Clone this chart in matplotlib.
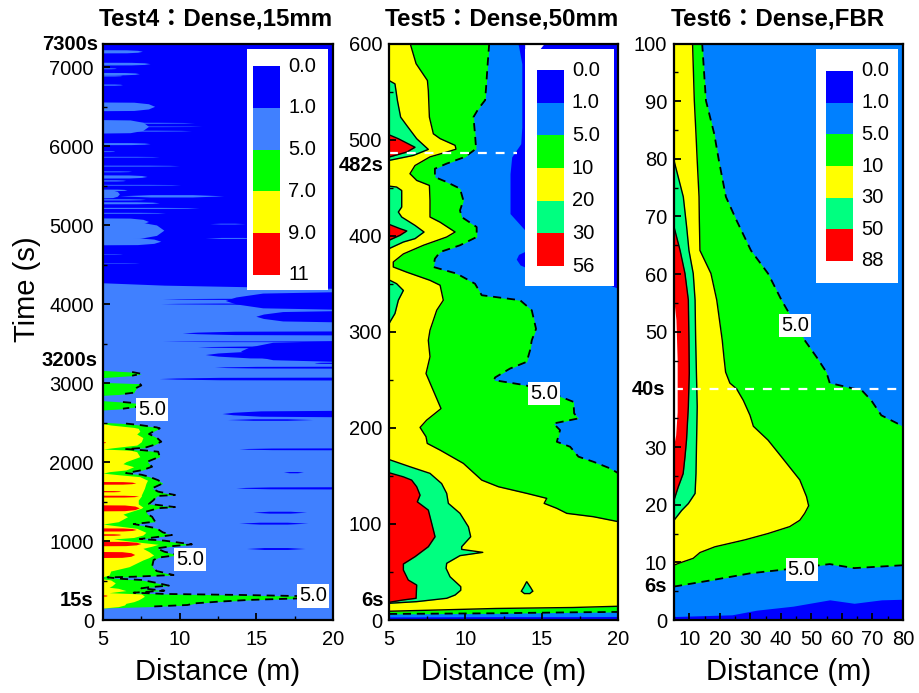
import matplotlib
matplotlib.use("Agg")
import matplotlib.pyplot as plt
from matplotlib.patches import Rectangle
from matplotlib.ticker import MultipleLocator, FuncFormatter
import numpy as np

plt.rcParams['font.family'] = ['Liberation Sans', 'Noto Sans CJK TC', 'DejaVu Sans']

DARK, LIGHT1, LIGHT, GREEN, YELLOW, TEAL, RED = '#0000ff', '#4080ff', '#0080ff', '#00ff00', '#ffff00', '#00ff80', '#ff0000'

# ---------- Test4 data ----------
# boundary between 1.0 band and 5.0 band at the front of the plume
t4_front_x = [5, 9, 20]
t4_front_t = [4270, 4240, 4200]
# light-blue streaks from the left edge: time, half height, reach
t4_up_t = [7195, 7039, 6980, 6912, 6890, 6773, 6498, 6245, 6290, 6245, 6190, 6026, 5930, 5860, 5747, 5675, 5610, 5560, 5505, 5440, 5390, 5320, 5277, 5212, 5150, 5040, 4930, 4790, 4629, 4515]
t4_up_h = [20, 17, 6, 15, 8, 8, 55, 85, 6, 4, 6, 13, 5, 5, 6, 6, 20, 8, 5, 10, 50, 8, 13, 7, 6, 45, 110, 45, 3, 3]
t4_up_x = [7.6, 8.1, 5.9, 7.4, 6.3, 6.3, 8.4, 8.0, 11.0, 11.5, 10.8, 8.1, 5.8, 8.7, 10.0, 6.9, 7.9, 6.5, 10.1, 6.6, 6.1, 7.8, 8.7, 11.3, 9.1, 8.0, 9.0, 8.8, 6.3, 7.4]
# free-floating light streaks: time, half height, start, end
t4_float_t = [5365, 5013, 4832]
t4_float_h = [15, 5, 6]
t4_float_a = [6.1, 12.0, 11.7]
t4_float_b = [12.9, 14.3, 15.2]
# dark streaks reaching the right edge: time, half height, start
t4_dn_t = [4040, 4060, 4000, 3840, 3629, 3523, 3452, 3400, 3355, 3250, 3195, 3051, 2608, 2161, 1667]
t4_dn_h = [110, 8, 8, 70, 25, 5, 12, 130, 50, 8, 12, 18, 40, 12, 14]
t4_dn_x = [13.0, 8.9, 8.8, 15.0, 10.2, 8.9, 11.2, 14.0, 11.7, 18.8, 12.3, 8.7, 12.8, 13.9, 13.7]
# free-floating dark streaks
t4_dfl_t = [2532, 1866, 1359, 1220, 899]
t4_dfl_h = [10, 8, 12, 12, 12]
t4_dfl_a = [13.15, 16.8, 14.8, 13.9, 14.4]
t4_dfl_b = [18.7, 18.1, 18.3, 18.4, 18.2]
# band edges near the source
t4_t = [3160, 3140, 3118, 3094, 3070, 3009, 2992, 2971, 2942, 2912, 2878, 2857, 2845, 2777, 2760, 2743, 2701, 2676, 2659, 2503,
        2487, 2469, 2439, 2427, 2390, 2355, 2310, 2258, 2215, 2180, 2165, 2150, 2131, 2068, 2005, 1980, 1941, 1900, 1878, 1860,
        1840, 1815, 1770, 1730, 1667, 1625, 1583, 1570, 1519, 1470, 1430, 1415, 1372, 1340, 1308, 1245, 1215, 1195, 1161, 1110,
        1076, 1045, 1026, 1005, 958, 935, 907, 865, 823, 790, 760, 675, 620, 570, 548, 540, 520, 507, 470, 435,
        415, 401, 372, 346, 330, 317, 300, 275, 254, 232, 211, 190, 169, 152]
t4_g = [5, 6.9, 7.5, 6.9, 5, 5, 7.4, 7.5, 7.2, 7.1, 7.0, 6.1, 5, 5, 6.3, 7.3, 7.3, 6.3, 5, 5,
        6.5, 7.4, 8.5, 8.7, 8.3, 8.0, 8.5, 8.8, 8.3, 7.7, 6.5, 7.6, 8.6, 8.7, 7.9, 8.0, 8.2, 7.6, 7.0, 6.5,
        7.5, 8.0, 8.6, 8.9, 8.2, 8.6, 9.7, 8.5, 8.3, 8.0, 9.7, 8.6, 7.8, 7.9, 8.2, 8.4, 7.0, 7.6, 8.5, 8.9,
        9.5, 8.3, 7.4, 9.0, 10.8, 9.5, 8.5, 9.0, 9.9, 8.6, 8.3, 8.2, 8.5, 9.6, 7.0, 5.3, 6.3, 7.5, 8.5, 9.3,
        8, 7.5, 9.0, 7.0, 9.0, 14, 18.6, 18, 14.5, 12.5, 11, 10.5, 8, 5]
t4_y = [5, 5, 5, 5, 5, 5, 5, 5, 5, 5, 5, 5, 5, 5, 5, 5, 5, 5, 5, 5,
        5, 5.5, 7.0, 7.3, 7.4, 7.2, 7.6, 7.5, 7.2, 5.6, 5, 6.8, 7.2, 7.4, 6.5, 6.3, 7.0, 6.5, 5.4, 5,
        6.0, 7.4, 7.9, 7.8, 7.7, 7.6, 7.5, 7.5, 7.3, 7.3, 7.6, 7.5, 6.8, 6.3, 6.6, 6.0, 5, 5.8, 7.2, 7.8,
        7.6, 7.0, 5.7, 6.5, 8.6, 8.2, 7.6, 8.0, 8.3, 8.0, 7.6, 6.7, 5.5, 5.4, 5, 5, 5, 5.5, 5.8, 5.6,
        5.4, 6.0, 6.5, 5.4, 7.5, 7.6, 7.7, 7.5, 7.3, 7.0, 6.5, 6.4, 6.0, 5]
t4_red_t = [2245, 1730, 1625, 1562, 1414, 1140, 1076, 962, 823, 304]
t4_red_h = [6, 17, 8, 12, 38, 20, 10, 28, 38, 8]
t4_red_x = [5.2, 7.17, 6.2, 7.35, 7.4, 7.2, 6.2, 7.5, 7.1, 5.3]

# ---------- Test5 data ----------
t5_b10_t = [600, 598, 579, 561.5, 551, 523.4, 506, 501, 494, 490, 487, 482, 473, 464.5, 457.5, 452.3, 436.7, 419.4, 414, 403.8, 398.6, 390, 381, 372.6, 367.4, 362, 353.5, 348.4, 332.8, 322.4, 301.6,
            291, 274, 256.5, 242.7, 220, 208, 200.4, 190.7, 183.8, 176.8, 163, 145.6, 138.7, 131.8, 126.6, 121.4, 116.2, 111, 107.5, 102.3]
t5_b10_x = [6.4, 6.42, 6.77, 7.51, 7.57, 7.64, 7.9, 8.34, 9.32, 9.38, 8.77, 7.68, 6.7, 6.37, 6.81, 7.64, 7.68, 7.68, 8.34, 9.32, 8.77, 7.25, 5.94, 5.28, 5.28, 6.16, 7.68, 8.34, 8.55, 8.12, 7.68,
            7.57, 7.68, 7.42, 7.79, 8.4, 7.46, 7.03, 7.42, 7.5, 8.34, 9.86, 11.06, 12.15, 14.0, 15.31, 15.14, 15.97, 16.62, 18.36, 20]
t5_b5_t = [600, 598, 579, 553, 541, 532, 523.4, 506, 490.5, 482, 475, 469.7, 461, 455.8, 449, 436.7, 426.3, 419.4, 409, 398.6, 390, 383, 376, 367.4, 360.5, 350, 338, 332.8, 322.4, 303,
           291, 280.8, 268.7, 261.7, 252.4, 249.6, 244.4, 234, 227, 215, 209.8, 204.5, 197.6, 185.5, 180.3, 170, 164.7, 157.8, 152.6]
t5_b5_x = [11.55, 11.54, 11.45, 11.34, 11.28, 10.84, 10.52, 10.62, 10.69, 9.97, 8.77, 8.0, 8.0, 8.77, 9.64, 9.86, 9.64, 9.75, 10.73, 10.73, 9.64, 8.34, 8.0, 7.9, 9.43, 10.62, 11.06, 13.57, 14.33, 14.61,
           14.33, 14.22, 14.0, 12.91, 11.93, 11.87, 13.9, 15.97, 17.06, 17.1, 17.38, 15.75, 16.18, 15.97, 16.84, 17.38, 18.36, 19.45, 20]
t5_b1_t = [600, 598, 579, 541, 513, 495.7, 482, 464.5, 450.6, 423, 405.5, 395, 350, 345]
t5_b1_x = [13.4, 13.46, 13.68, 13.68, 13.68, 13.61, 13.02, 12.91, 12.91, 12.91, 13.9, 14.88, 19.2, 20]
t5_pocket_x = [13.9, 13.5, 13.35, 13.6, 13.9]
t5_pocket_t = [383, 380, 375, 369, 367]
t5_sliver_x = [13.9, 15.2, 14.9, 13.9]
t5_sliver_t = [600, 600, 594, 594]
t5_teal = [
    ([561.5, 558, 540.7, 523.4, 514.7, 500.9, 489.8, 483.5, 478.3], [5, 5.39, 5.55, 5.76, 6.16, 6.81, 7.57, 6.59, 5]),
    ([451.6, 450.6, 447, 429.8, 424.6, 419.4, 410.7, 403.8, 396.9, 393.4, 386.5], [5, 5.5, 5.83, 5.83, 5.61, 5.83, 6.7, 7.29, 6.7, 5.94, 5]),
    ([354, 350, 343, 332.8, 319, 308.5], [5, 5.5, 5.94, 5.61, 5.39, 5]),
    ([167, 159.5, 152.6, 142, 131.8, 121.4, 111, 97, 86.7, 76.3, 73.5, 70.4, 67, 59, 53.8, 45, 34.7, 31, 26, 22.6, 19.1, 17.4],
     [5, 6.37, 7.68, 8.44, 8.77, 8.88, 9.64, 10.19, 10.34, 9.75, 9.75, 11.13, 9.64, 8.77, 8.73, 8.99, 9.69, 9.69, 9.32, 8.77, 6.81, 5]),
]
t5_red = [
    ([505, 500.9, 492, 487, 481.8], [5, 5.61, 6.7, 6.16, 5]),
    ([411.8, 407.3, 404.9, 400.4, 395.2], [5, 5.72, 6.16, 5.72, 5]),
    ([153.3, 149, 145.6, 138.7, 130, 123, 114.4, 100.6, 86.7, 76.3, 65.9, 58.3, 52, 41.6, 36.4, 22.6, 20.9, 18.4],
     [5, 5.94, 6.48, 6.81, 7.03, 6.85, 7.57, 7.79, 8.01, 7.57, 6.7, 5.94, 5.94, 6.26, 6.81, 6.77, 5.94, 5]),
]
t5_drop_x = [14.0, 14.25, 14.4, 14.2, 13.85, 13.65, 13.8]
t5_drop_t = [40, 34, 30, 27.5, 27.5, 30, 34]
t5_base_x = [5, 12, 17, 20]
t5_base_10 = [9.1, 12, 13, 14.3]
t5_base_5 = [6.3, 7, 8, 8.4]
t5_base_1 = [3.2, 3.5, 3.5, 3.7]

# ---------- Test6 data ----------
t6_b5_t = [100, 99.65, 90.1, 84.3, 79.7, 73.4, 69.3, 64.1, 60.1, 55.5, 48.53, 45.6, 43, 41.1, 40.1, 39.9, 38.1, 35.5, 33.6]
t6_b5_x = [14.2, 14.27, 15.46, 18.19, 19.7, 22, 25.5, 30.2, 35.8, 40.2, 47.8, 51.7, 54.9, 56, 64.2, 66.4, 69.6, 72.9, 80]
t6_b10_t = [100, 99.65, 90.1, 84.3, 79.7, 73.4, 69.3, 64.1, 60.1, 55.5, 48.53, 45.6, 43, 41.1, 40.1, 38.1, 35.5, 33.6, 31.2, 28.3, 24.3, 21.4, 19.8, 18.5, 17.3, 16.2, 15, 13.9, 12.7, 11.7, 10.7, 9.8, 9.5]
t6_b10_x = [11.1, 11.1, 11.65, 12.2, 12.6, 13.2, 13.3, 13.5, 17.1, 19, 20.8, 21.35, 21.9, 23.3, 25.5, 27.7, 29.9, 31, 35.8, 40.2, 46.2, 48.4, 49.1, 47.8, 46.2, 42.9, 35.8, 28.2, 18.4, 13.5, 11.3, 6.4, 5]
t6_b30_t = [79.7, 73.4, 68.2, 64.1, 60.1, 55.5, 48.5, 37, 31.2, 25.4, 21.95, 20.2, 19, 17.3]
t6_b30_x = [5, 8.05, 9.14, 9.9, 11.3, 11.9, 12.1, 12.6, 12.4, 12.2, 11.9, 9.7, 7.5, 5]
t6_b50_t = [68.2, 64.1, 60.1, 55.5, 48.5, 42.8, 37, 31.2, 28.3, 25.4, 23.1, 20.8]
t6_b50_x = [5, 7, 8.6, 9.7, 9.9, 10, 9.7, 9.1, 8.6, 8, 6.4, 5]
t6_sliver_x = [5, 5.8, 6.2, 6.2, 5.7, 5]
t6_sliver_t = [56, 52, 45, 36, 32, 30]
t6_low5_x = [5, 17.3, 30, 42, 56, 64, 80]
t6_low5_t = [5.8, 6.9, 8.1, 8.8, 9.7, 9.0, 9.5]
t6_low1_x = [5, 24, 32, 44, 56, 64, 73, 80]
t6_low1_t = [0.6, 0.9, 1.7, 2.4, 3.5, 2.9, 3.5, 3.6]

legend4_labels = ['0.0', '1.0', '5.0', '7.0', '9.0', '11']
legend5_labels = ['0.0', '1.0', '5.0', '10', '20', '30', '56']
legend6_labels = ['0.0', '1.0', '5.0', '10', '30', '50', '88']

W, H = 920, 693
fig = plt.figure(figsize=(W / 100, H / 100), dpi=100)

DASH = (0, (4.5, 3.2))
FS = 14.5


def make_axes(x0, x1, xlim, ylim, xmaj, xmin, ymaj, ymin, ypad=5):
    ax = fig.add_axes([x0 / W, (H - 620) / H, (x1 - x0) / W, (620 - 43.5) / H])
    ax.set_xlim(*xlim)
    ax.set_ylim(*ylim)
    ax.xaxis.set_major_locator(MultipleLocator(xmaj))
    ax.xaxis.set_minor_locator(MultipleLocator(xmin))
    ax.yaxis.set_major_locator(MultipleLocator(ymaj))
    ax.yaxis.set_minor_locator(MultipleLocator(ymin))
    ax.tick_params(which='major', direction='in', length=5, width=1.3, labelsize=FS, pad=ypad, top=False, right=False)
    ax.tick_params(which='minor', direction='in', length=3, width=1.0, top=False, right=False)
    ax.tick_params(axis='x', which='major', pad=7)
    ax.set_axisbelow(False)
    for s in ax.spines.values():
        s.set_linewidth(1.6)
        s.set_zorder(10)
    ax.set_xlabel('Distance (m)', fontsize=21, labelpad=7)
    return ax


def legend(ax, box, squares, text_x, colors, labels):
    """box and squares are given in figure pixels; converted through the figure transform."""
    tr = fig.transFigure
    bx0, by0, bx1, by1 = box
    ax.add_patch(Rectangle((bx0 / W, 1 - by1 / H), (bx1 - bx0) / W, (by1 - by0) / H, transform=tr, fc='white', ec='none', zorder=6))
    sx0, sy0, sx1, sy1 = squares
    n = len(colors)
    step = (sy1 - sy0) / n
    for i, c in enumerate(colors):
        ax.add_patch(Rectangle((sx0 / W, 1 - (sy0 + (i + 1) * step) / H), (sx1 - sx0) / W, step / H, transform=tr, fc=c, ec='none', zorder=7))
    for i, lab in enumerate(labels):
        ax.text(text_x / W, 1 - (sy0 + i * step) / H, lab, transform=tr, fontsize=FS, va='center', ha='left', zorder=8)


def spindle_left(ax, t, h, x, c, z):
    L = x - 5
    ax.fill([5, 5 + .6 * L, 5 + .88 * L, x, 5 + .88 * L, 5 + .6 * L, 5],
            [t + h, t + .95 * h, t + .6 * h, t, t - .6 * h, t - .95 * h, t - h], color=c, lw=0, zorder=z)


def spindle_right(ax, t, h, x, c, z, xr=20):
    L = xr - x
    ax.fill([xr, x + .35 * L, x + .1 * L, x, x + .1 * L, x + .35 * L, xr],
            [t + h, t + .85 * h, t + .4 * h, t, t - .4 * h, t - .85 * h, t - h], color=c, lw=0, zorder=z)


def lens(ax, t, h, a, b, c, z):
    L = b - a
    ax.fill([a, a + .3 * L, a + .7 * L, b, a + .7 * L, a + .3 * L], [t, t + h, t + h, t, t - h, t - h], color=c, lw=0, zorder=z)


def label50(ax, x, t):
    ax.text(x, t, '5.0', fontsize=14.5, ha='center', va='center', zorder=5,
            bbox=dict(fc='white', ec='none', pad=1.5))


# ---------- panel 1 ----------
ax = make_axes(103, 333, (5, 20), (0, 7300), 5, 2.5, 1000, 500, ypad=6.5)
ax.set_facecolor(DARK)
ax.fill_between(t4_front_x, 0, t4_front_t, color=LIGHT1, lw=0, zorder=1)
for t, h, x in zip(t4_up_t, t4_up_h, t4_up_x):
    spindle_left(ax, t, h, x, LIGHT1, 1.2)
for t, h, a, b in zip(t4_float_t, t4_float_h, t4_float_a, t4_float_b):
    lens(ax, t, h, a, b, LIGHT1, 1.2)
for t, h, x in zip(t4_dn_t, t4_dn_h, t4_dn_x):
    spindle_right(ax, t, h, x, DARK, 1.3)
for t, h, a, b in zip(t4_dfl_t, t4_dfl_h, t4_dfl_a, t4_dfl_b):
    lens(ax, t, h, a, b, DARK, 1.3)
ax.fill_betweenx(t4_t, 5, t4_g, color=GREEN, lw=0, zorder=1.5)
ax.fill_betweenx(t4_t, 5, t4_y, color=YELLOW, lw=0, zorder=1.6)
for t, h, x in zip(t4_red_t, t4_red_h, t4_red_x):
    spindle_left(ax, t, h, x, RED, 1.7)
g = np.array(t4_g, dtype=float)
g[g <= 5] = np.nan
ax.plot(g, t4_t, color='k', lw=1.3, ls=DASH, zorder=3)
label50(ax, 8.18, 2671)
label50(ax, 10.67, 760)
label50(ax, 18.7, 304)
legend(ax, (246.7, 49, 328, 290), (253, 66, 280, 275), 288.5, [DARK, LIGHT1, GREEN, YELLOW, RED], legend4_labels)
ax.text(-0.022, 7283, '7300s', transform=ax.get_yaxis_transform(), ha='right', va='center', fontsize=FS, fontweight='bold')
ax.text(-0.022, 3283, '3200s', transform=ax.get_yaxis_transform(), ha='right', va='center', fontsize=FS, fontweight='bold')
ax.text(-0.04, 253, '15s', transform=ax.get_yaxis_transform(), ha='right', va='center', fontsize=FS, fontweight='bold')

# ---------- panel 2 ----------
ax = make_axes(389, 618.5, (5, 20), (0, 600), 5, 2.5, 100, 50)
ax.set_facecolor(LIGHT)
ax.fill_betweenx(t5_b1_t, t5_b1_x, 20, color=DARK, lw=0, zorder=1)
ax.fill(t5_pocket_x, t5_pocket_t, color=DARK, lw=0, zorder=1)
ax.fill(t5_sliver_x, t5_sliver_t, color='white', lw=0, zorder=6)
ax.fill_betweenx(t5_b5_t + [0], 5, t5_b5_x + [20], color=GREEN, lw=0, zorder=1.2)
ax.fill_betweenx(t5_b10_t + [0], 5, t5_b10_x + [20], color=YELLOW, lw=0, zorder=1.3)
ax.plot(t5_b5_x, t5_b5_t, color='k', lw=1.3, ls=DASH, zorder=3)
ax.plot(t5_b10_x, t5_b10_t, color='k', lw=1.0, zorder=3)
for tt, xx in t5_teal:
    ax.fill_betweenx(tt, 5, xx, color=TEAL, lw=0, zorder=1.4)
    ax.plot(xx, tt, color='k', lw=1.0, zorder=3)
for tt, xx in t5_red:
    ax.fill_betweenx(tt, 5, xx, color=RED, lw=0, zorder=1.5)
    ax.plot(xx, tt, color='k', lw=1.0, zorder=3)
ax.fill(t5_drop_x, t5_drop_t, fc=TEAL, ec='k', lw=1.0, zorder=3)
ax.fill_between(t5_base_x, 0, t5_base_10, color=GREEN, lw=0, zorder=2)
ax.fill_between(t5_base_x, 0, t5_base_5, color=LIGHT, lw=0, zorder=2.1)
ax.fill_between(t5_base_x, 0, t5_base_1, color=DARK, lw=0, zorder=2.2)
ax.plot(t5_base_x, t5_base_10, color='k', lw=1.0, zorder=3)
ax.plot(t5_base_x, t5_base_5, color='k', lw=1.3, ls=DASH, zorder=3)
ax.plot([5, 13.35], [486, 486], color='white', lw=1.6, ls=(0, (4, 4)), zorder=4)
label50(ax, 15.13, 236)
legend(ax, (525, 49, 614, 285.7), (537, 70, 564, 266), 572, [DARK, LIGHT, GREEN, YELLOW, TEAL, RED], legend5_labels)
ax.text(-0.025, 473, '482s', transform=ax.get_yaxis_transform(), ha='right', va='center', fontsize=FS, fontweight='bold')
ax.text(-0.025, 20, '6s', transform=ax.get_yaxis_transform(), ha='right', va='center', fontsize=FS, fontweight='bold')

# ---------- panel 3 ----------
ax = make_axes(674, 903, (5, 80), (0, 100), 10, 5, 10, 5)
# the 40 tick is replaced by the bold "40s" note
ax.yaxis.set_major_formatter(FuncFormatter(lambda v, pos: '' if abs(v - 40) < 1e-6 else f'{v:.0f}'))
ax.set_facecolor(LIGHT)
ax.fill_betweenx(t6_b5_t + [0], 5, t6_b5_x + [80], color=GREEN, lw=0, zorder=1.2)
ax.fill_betweenx(t6_b10_t, 5, t6_b10_x, color=YELLOW, lw=0, zorder=1.3)
ax.fill_betweenx(t6_b30_t, 5, t6_b30_x, color=TEAL, lw=0, zorder=1.4)
ax.fill_betweenx(t6_b50_t, 5, t6_b50_x, color=RED, lw=0, zorder=1.5)
ax.fill(t6_sliver_x, t6_sliver_t, color='white', lw=0, zorder=1.6)
ax.fill_between(t6_low5_x, 0, t6_low5_t, color=LIGHT, lw=0, zorder=2)
ax.fill_between(t6_low1_x, 0, t6_low1_t, color=DARK, lw=0, zorder=2.1)
ax.plot(t6_b5_x, t6_b5_t, color='k', lw=1.3, ls=DASH, zorder=3)
ax.plot(t6_low5_x, t6_low5_t, color='k', lw=1.3, ls=DASH, zorder=3)
for xx, tt in [(t6_b10_x, t6_b10_t), (t6_b30_x, t6_b30_t), (t6_b50_x, t6_b50_t)]:
    ax.plot(xx, tt, color='k', lw=1.0, zorder=3)
ax.plot([5, 80], [40, 40], color='white', lw=1.6, ls=(0, (4, 4)), zorder=4)
label50(ax, 44.6, 51.1)
label50(ax, 46.8, 8.8)
legend(ax, (816, 49, 897.7, 283), (826, 71, 853, 261), 861.5, [DARK, LIGHT, GREEN, YELLOW, TEAL, RED], legend6_labels)
ax.text(-0.038, 40, '40s', transform=ax.get_yaxis_transform(), ha='right', va='center', fontsize=FS, fontweight='bold')
ax.text(-0.03, 5.8, '6s', transform=ax.get_yaxis_transform(), ha='right', va='center', fontsize=FS, fontweight='bold')

# ---------- figure text ----------
TITLE_FS = 17.4
fig.text(216 / W, 1 - 19 / H, 'Test4：Dense,15mm', ha='center', va='center', fontsize=TITLE_FS, fontweight='bold')
fig.text(502 / W, 1 - 19 / H, 'Test5：Dense,50mm', ha='center', va='center', fontsize=TITLE_FS, fontweight='bold')
fig.text(778 / W, 1 - 19 / H, 'Test6：Dense,FBR', ha='center', va='center', fontsize=TITLE_FS, fontweight='bold')
fig.text(27 / W, 1 - 289 / H, 'Time (s)', rotation=90, ha='center', va='center', fontsize=21)

fig.savefig('out.png', dpi=100)
